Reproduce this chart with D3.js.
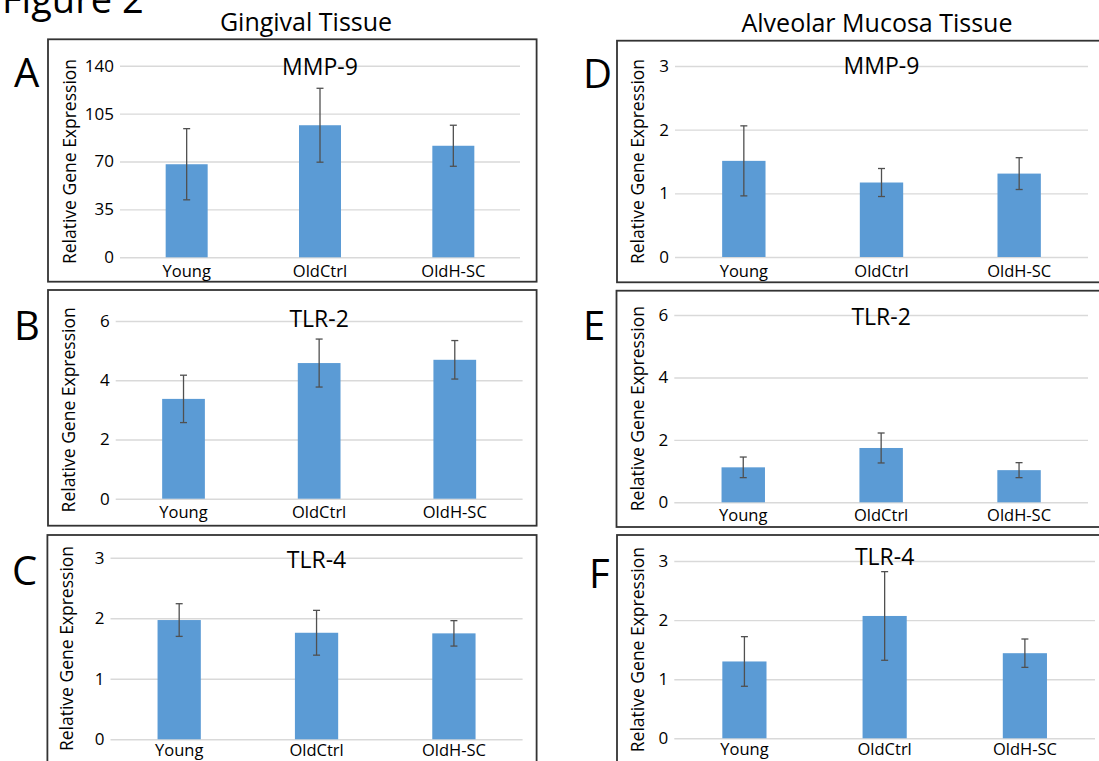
<!DOCTYPE html>
<html>
<head>
<meta charset="utf-8">
<script src="https://cdn.jsdelivr.net/npm/d3@7"></script>
<style>
  html, body { margin: 0; padding: 0; background: #fff; overflow: hidden; }
  svg { display: block; font-family: "Open Sans", "DejaVu Sans", sans-serif; }
</style>
</head>
<body>
<div id="chart"></div>
<script>
// groups on the x axis
const categories = ['Young', 'OldCtrl', 'OldH-SC'];

// gingival tissue (left column)
const mmp9Ging = [68, 96.5, 81.5],   mmp9GingErr = [26, 27, 15];
const tlr2Ging = [3.37, 4.58, 4.69], tlr2GingErr = [0.8, 0.81, 0.65];
const tlr4Ging = [1.97, 1.76, 1.75], tlr4GingErr = [0.27, 0.37, 0.21];

// alveolar mucosa tissue (right column)
const mmp9Alv = [1.51, 1.17, 1.31], mmp9AlvErr = [0.55, 0.22, 0.25];
const tlr2Alv = [1.12, 1.74, 1.03], tlr2AlvErr = [0.33, 0.48, 0.24];
const tlr4Alv = [1.30, 2.07, 1.44], tlr4AlvErr = [0.42, 0.75, 0.24];

// y tick labels
const ticks140 = [0, 35, 70, 105, 140];
const ticks6 = [0, 2, 4, 6];
const ticks3 = [0, 1, 2, 3];

const BLUE = '#5b9bd5', GRID = '#d9d9d9', ERR = '#505050', BORDER = '#333';

// layout: box = frame, plot = [x0, x1, yTop, yZero]
const panels = [
  { letter: 'A', gene: 'MMP-9', vals: mmp9Ging, errs: mmp9GingErr, ticks: ticks140,
    box: [48, 39.3, 536.6, 281.7], plot: [120, 520, 65.7, 257.3], titleY: 75, labX: 70, letterAt: [14, 87], pad: 8 },
  { letter: 'B', gene: 'TLR-2', vals: tlr2Ging, errs: tlr2GingErr, ticks: ticks6,
    box: [48, 290, 536.6, 525.7], plot: [115.7, 522.6, 321, 498.7], titleY: 326.7, labX: 68.4, letterAt: [14, 340], pad: 8 },
  { letter: 'C', gene: 'TLR-4', vals: tlr4Ging, errs: tlr4GingErr, ticks: ticks3,
    box: [47.4, 535, 536.6, 800], plot: [110.5, 522.6, 557.7, 739.3], titleY: 568.3, labX: 66.6, letterAt: [12, 585], pad: 5 },
  { letter: 'D', gene: 'MMP-9', vals: mmp9Alv, errs: mmp9AlvErr, ticks: ticks3,
    box: [617, 40.7, 1130, 282.3], plot: [675, 1088, 66, 257], titleY: 74, labX: 638, letterAt: [583, 88], pad: 8 },
  { letter: 'E', gene: 'TLR-2', vals: tlr2Alv, errs: tlr2AlvErr, ticks: ticks6,
    box: [616.5, 290.7, 1130, 527], plot: [674.3, 1088, 315, 502.3], titleY: 325, labX: 638, letterAt: [583, 340], pad: 7 },
  { letter: 'F', gene: 'TLR-4', vals: tlr4Alv, errs: tlr4AlvErr, ticks: ticks3,
    box: [617, 535, 1130, 800], plot: [674.3, 1095, 561, 738.3], titleY: 565, labX: 637.5, letterAt: [589, 588], pad: 5 },
];

const svg = d3.select('#chart').append('svg').attr('width', 1099).attr('height', 761);
svg.append('rect').attr('width', 1099).attr('height', 761).attr('fill', '#fff');

// figure + column headings (the figure label is cropped at the top in the source too)
svg.append('text').attr('x', 2).attr('y', 13).attr('font-size', 38).attr('fill', '#000').text('Figure 2');
svg.append('text').attr('x', 306).attr('y', 31).attr('text-anchor', 'middle').attr('font-size', 25).text('Gingival Tissue');
svg.append('text').attr('x', 877).attr('y', 32).attr('text-anchor', 'middle').attr('font-size', 25).text('Alveolar Mucosa Tissue');

panels.forEach(p => {
  const g = svg.append('g');
  const [bx0, by0, bx1, by1] = p.box;
  const [px0, px1, pyTop, pyZero] = p.plot;

  g.append('rect').attr('x', bx0).attr('y', by0).attr('width', bx1 - bx0).attr('height', by1 - by0)
    .attr('fill', '#fff').attr('stroke', BORDER).attr('stroke-width', 1.8);

  const x = d3.scaleBand().domain(categories).range([px0, px1]).paddingInner(0.685).paddingOuter(0.3425);
  const y = d3.scaleLinear().domain([0, d3.max(p.ticks)]).range([pyZero, pyTop]);

  // gridlines + tick labels
  const ya = g.append('g').attr('transform', `translate(${px0},0)`)
    .call(d3.axisLeft(y).tickValues(p.ticks).tickSize(-(px1 - px0)).tickPadding(6).tickFormat(d3.format('d')))
    .attr('font-family', null).attr('font-size', 17);
  ya.select('.domain').remove();
  ya.selectAll('line').attr('stroke', GRID).attr('stroke-width', 1.4);
  ya.selectAll('text').attr('fill', '#000');

  // bars
  g.append('g').selectAll('rect').data(p.vals).join('rect')
    .attr('x', (d, i) => x(categories[i])).attr('width', x.bandwidth())
    .attr('y', d => y(d)).attr('height', d => y(0) - y(d))
    .attr('fill', BLUE);

  // error bars
  const eb = g.append('g').attr('stroke', ERR).attr('stroke-width', 1.3);
  p.vals.forEach((v, i) => {
    const cx = x(categories[i]) + x.bandwidth() / 2, e = p.errs[i];
    eb.append('line').attr('x1', cx).attr('x2', cx).attr('y1', y(v - e)).attr('y2', y(v + e));
    eb.append('line').attr('x1', cx - 3.5).attr('x2', cx + 3.5).attr('y1', y(v - e)).attr('y2', y(v - e));
    eb.append('line').attr('x1', cx - 3.5).attr('x2', cx + 3.5).attr('y1', y(v + e)).attr('y2', y(v + e));
  });

  // category labels
  const xa = g.append('g').attr('transform', `translate(0,${pyZero})`)
    .call(d3.axisBottom(x).tickSize(0).tickPadding(p.pad))
    .attr('font-family', null).attr('font-size', 16.5);
  xa.select('.domain').remove();
  xa.selectAll('text').attr('fill', '#000');

  // gene title
  g.append('text').attr('x', (px0 + px1) / 2).attr('y', p.titleY).attr('text-anchor', 'middle')
    .attr('font-size', 23).attr('fill', '#000').text(p.gene);

  // y axis title
  const cy = (pyTop + pyZero) / 2;
  g.append('text').attr('transform', `translate(${p.labX},${cy}) rotate(-90)`).attr('dy', '0.35em')
    .attr('text-anchor', 'middle').attr('font-size', 17.5).attr('fill', '#000').text('Relative Gene Expression');

  // panel letter
  g.append('text').attr('x', p.letterAt[0]).attr('y', p.letterAt[1]).attr('font-size', 40).attr('fill', '#000').text(p.letter);
});
</script>
</body>
</html>
